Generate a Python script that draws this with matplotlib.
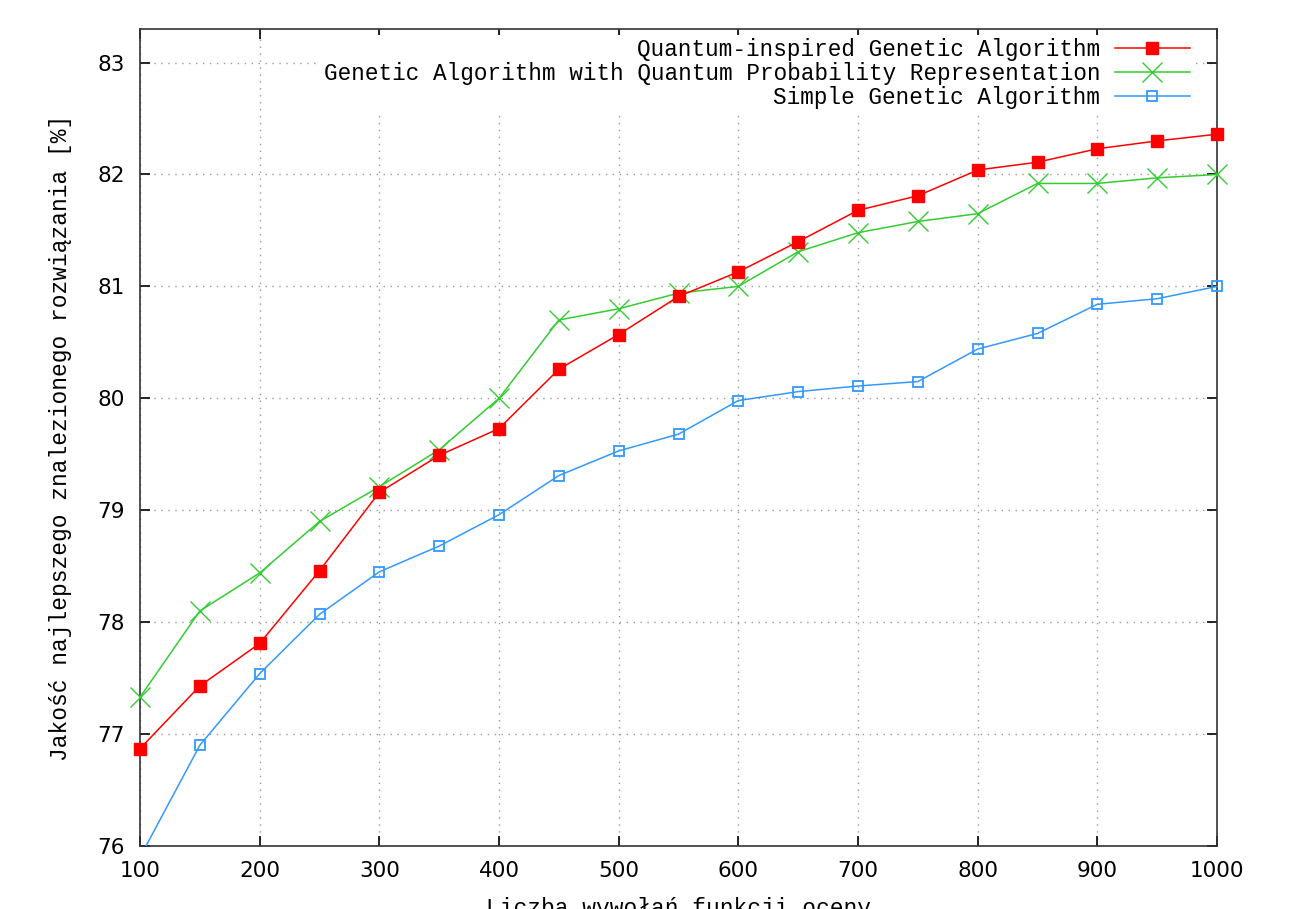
import numpy as np
import matplotlib
matplotlib.use("Agg")
import matplotlib.pyplot as plt
from matplotlib.transforms import Bbox, TransformedBbox

# function evaluations
evals = [100, 150, 200, 250, 300, 350, 400, 450, 500, 550,
         600, 650, 700, 750, 800, 850, 900, 950, 1000]

qiga = [76.87, 77.43, 77.81, 78.46, 79.16, 79.49, 79.73, 80.26, 80.57, 80.91,
        81.13, 81.40, 81.68, 81.81, 82.04, 82.11, 82.23, 82.30, 82.36]
gaqpr = [77.33, 78.10, 78.44, 78.90, 79.21, 79.54, 80.00, 80.70, 80.80, 80.94,
         81.00, 81.31, 81.48, 81.58, 81.65, 81.92, 81.92, 81.97, 82.00]
sga = [75.90, 76.90, 77.54, 78.07, 78.45, 78.68, 78.96, 79.31, 79.53, 79.68,
       79.98, 80.06, 80.11, 80.15, 80.44, 80.58, 80.84, 80.89, 81.00]

labels = ["Quantum-inspired Genetic Algorithm",
          "Genetic Algorithm with Quantum Probability Representation",
          "Simple Genetic Algorithm"]

mono = ["Liberation Mono", "DejaVu Sans Mono"]

fig = plt.figure(figsize=(12.9, 9.09), dpi=100)
ax = fig.add_axes([140 / 1290, 1 - 846 / 909, (1217 - 140) / 1290, (846 - 29) / 909])

ax.plot(evals, qiga, color="#ff0000", lw=1.1, marker="s", ms=8,
        mec="#ff0000", mfc="#ff0000", label=labels[0], clip_on=False, zorder=4)
ax.plot(evals, gaqpr, color="#33cc33", lw=1.1, marker="x", ms=14.5, mew=1.0,
        label=labels[1], clip_on=False, zorder=3)
l3, = ax.plot(evals, sga, color="#3399ff", lw=1.1, marker="s", ms=7, mew=1.3,
              mfc="none", mec="#3399ff", label=labels[2], zorder=3)
# let the marker at the right edge show but clip below the axis
l3.set_clip_box(TransformedBbox(Bbox([[-0.02, 0.0], [1.02, 1.05]]), ax.transAxes))

ax.set_xlim(100, 1000)
ax.set_ylim(76, 83.3)
ax.set_xticks(np.arange(100, 1001, 100))
ax.set_yticks(np.arange(76, 84, 1))

ax.grid(True, linestyle=(0, (1, 4)), color="#999999", lw=1.0)
ax.tick_params(direction="in", length=7, width=1.2, top=True, right=True,
               labelsize=15.5, pad=11)
for lab in ax.get_xticklabels() + ax.get_yticklabels():
    lab.set_fontweight("medium")
for s in ax.spines.values():
    s.set_linewidth(1.2)
    s.set_color("#333333")

ax.set_xlabel("Liczba wywołań funkcji oceny", fontsize=16.5, family=mono, labelpad=11)
ax.set_ylabel("Jakość najlepszego znalezionego rozwiązania [%]", fontsize=16.5,
              family=mono, labelpad=18)

leg = ax.legend(loc="upper right", bbox_to_anchor=(1 - 24 / 1077, 1 - 6 / 817),
                markerfirst=False, prop={"family": mono, "size": 16.3},
                handlelength=3.3, handletextpad=0.65, labelspacing=0.03,
                borderpad=0.15, borderaxespad=0, frameon=True, fancybox=False,
                edgecolor="none", facecolor="white", framealpha=1)
leg.set_zorder(5)

fig.savefig("out.png", dpi=100)
